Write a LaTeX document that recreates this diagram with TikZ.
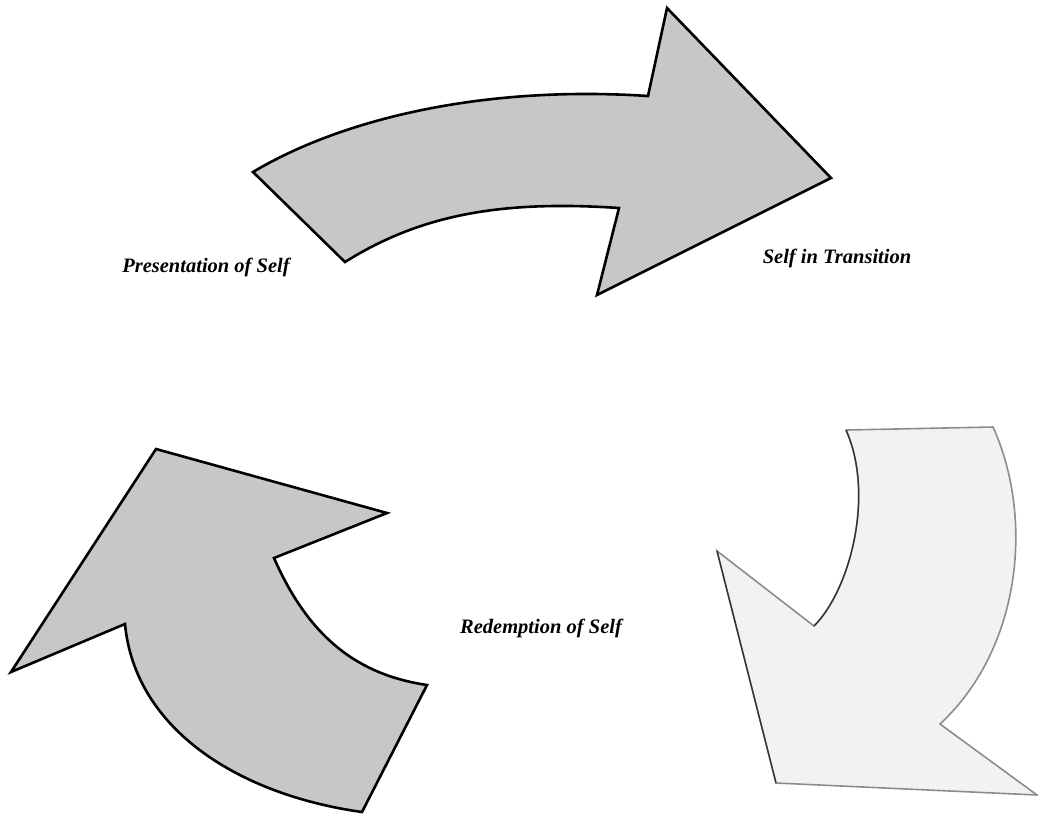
\documentclass[tikz,border=0pt]{standalone}
\usepackage{fontspec}
\setmainfont{Liberation Serif}
\usepackage{tikz}
\usetikzlibrary{positioning}

\begin{document}
\begin{tikzpicture}[x=1pt,y=-1pt,
  darkarrow/.style={draw=black,line width=2.6pt,line join=miter,fill=black!22},
  palearrow/.style={draw=black!45,line width=1.6pt,line join=miter,fill=black!5},
  stage/.style={font=\fontsize{20.5}{22}\selectfont\bfseries\itshape}]
\useasboundingbox (0,0) rectangle (1038,815);
% top arrow
\draw[darkarrow] (253,172) .. controls (340,120) and (480,85) .. (648,96) -- (667,8) -- (831,178) -- (597,295) -- (619,208) .. controls (500,200) and (420,215) .. (345,262) -- cycle;
% lower left arrow
\draw[darkarrow] (156,449) -- (387,513) -- (274,558) .. controls (310,640) and (360,675) .. (427,685) -- (362,812) .. controls (240,795) and (135,730) .. (125,624) -- (11,672) -- cycle;
% lower right arrow (faded)
\draw[palearrow] (846,430) -- (993,427) .. controls (1035,520) and (1020,650) .. (940,724) -- (1037,795) -- (776,783) -- (717,551) -- (814,626) .. controls (850,590) and (875,495) .. (846,430);
\draw[black!80,line width=1.4pt] (776,783) -- (717,551);
\draw[black!80,line width=1.4pt] (814,626) .. controls (850,590) and (875,495) .. (846,430);
% labels
\node[stage] (pres) at (206,267) {Presentation of Self};
\node[stage] (trans) at (837,258) {Self in Transition};
\node[stage] (redem) at (541,628) {Redemption of Self};
\end{tikzpicture}
\end{document}
